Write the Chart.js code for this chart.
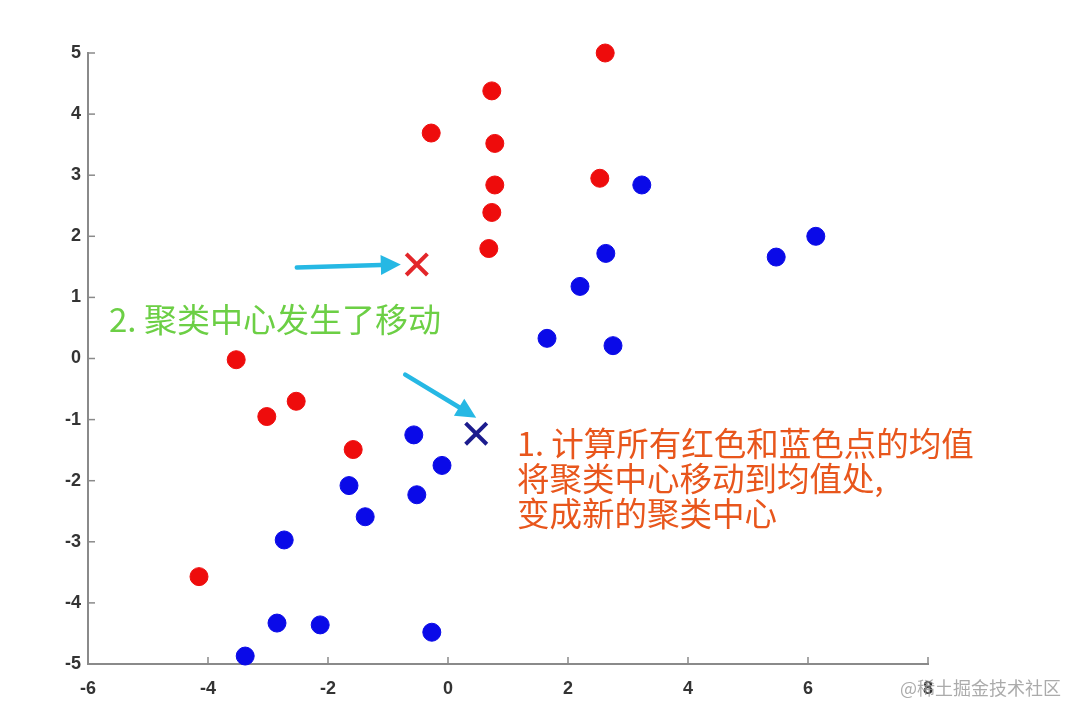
<!DOCTYPE html>
<html>
<head>
<meta charset="utf-8">
<script src="https://cdn.jsdelivr.net/npm/chart.js@4/dist/chart.umd.min.js"></script>
<style>
  body { margin: 0; background: #fff; }
  #wrap { width: 1080px; height: 716px; }
</style>
</head>
<body>
<div id="wrap"><canvas id="c" width="1080" height="716"></canvas></div>
<script>
// --- data ---
const redX = [2.62, 0.73, -0.28, 0.78, 0.78, 2.53, 0.73, 0.68, -3.53, -2.53, -3.02, -1.58, -4.15];
const redY = [5.0, 4.38, 3.69, 3.52, 2.84, 2.95, 2.39, 1.80, -0.02, -0.70, -0.95, -1.49, -3.57];
const blueX = [3.23, 6.13, 5.47, 2.63, 2.20, 1.65, 2.75, -0.57, -0.10, -0.52, -1.65, -1.38, -2.73, -2.85, -2.13, -0.27, -3.38];
const blueY = [2.84, 2.00, 1.66, 1.72, 1.18, 0.33, 0.21, -1.25, -1.75, -2.23, -2.08, -2.59, -2.97, -4.33, -4.36, -4.48, -4.87];
const redCenter = [-0.52, 1.54];
const blueCenter = [0.47, -1.23];
const xTicks = [-6, -4, -2, 0, 2, 4, 6, 8];
const yTicks = [-5, -4, -3, -2, -1, 0, 1, 2, 3, 4, 5];

const toPoints = (xs, ys) => xs.map((x, i) => ({ x: x, y: ys[i] }));

// --- annotation plugin: inward ticks, arrows, captions ---
const notes = {
    id: 'notes',
    afterDraw(chart) {
        const ctx = chart.ctx;
        const xs = chart.scales.x, ys = chart.scales.y;
        const area = chart.chartArea;

        // inward tick marks
        ctx.save();
        ctx.strokeStyle = '#8a8a8a';
        ctx.lineWidth = 1.5;
        xTicks.forEach(v => {
            const px = xs.getPixelForValue(v);
            ctx.beginPath();
            ctx.moveTo(px, area.bottom);
            ctx.lineTo(px, area.bottom - 7);
            ctx.stroke();
        });
        yTicks.forEach(v => {
            const py = ys.getPixelForValue(v);
            ctx.beginPath();
            ctx.moveTo(area.left, py);
            ctx.lineTo(area.left + 7, py);
            ctx.stroke();
        });
        ctx.restore();

        // arrows pointing at the centres
        function arrow(x1, y1, x2, y2) {
            const ang = Math.atan2(y2 - y1, x2 - x1);
            const head = 20, half = 10;
            const bx = x2 - head * Math.cos(ang), by = y2 - head * Math.sin(ang);
            ctx.save();
            ctx.strokeStyle = '#26b8e4';
            ctx.fillStyle = '#26b8e4';
            ctx.lineWidth = 4.5;
            ctx.lineCap = 'round';
            ctx.beginPath();
            ctx.moveTo(x1, y1);
            ctx.lineTo(bx, by);
            ctx.stroke();
            ctx.beginPath();
            ctx.moveTo(x2, y2);
            ctx.lineTo(bx - half * Math.sin(ang), by + half * Math.cos(ang));
            ctx.lineTo(bx + half * Math.sin(ang), by - half * Math.cos(ang));
            ctx.closePath();
            ctx.fill();
            ctx.restore();
        }
        const rcx = xs.getPixelForValue(redCenter[0]), rcy = ys.getPixelForValue(redCenter[1]);
        const bcx = xs.getPixelForValue(blueCenter[0]), bcy = ys.getPixelForValue(blueCenter[1]);
        arrow(rcx - 120, rcy + 3, rcx - 16, rcy);
        arrow(bcx - 71, bcy - 59, bcx, bcy - 16);

        // captions
        ctx.save();
        ctx.textBaseline = 'alphabetic';
        ctx.textAlign = 'left';
        ctx.font = '33px "Noto Sans CJK SC", "Noto Sans", sans-serif';
        ctx.fillStyle = '#6ccf45';
        ctx.fillText('2. 聚类中心发生了移动', 109, 332);
        ctx.font = '32.5px "Noto Sans CJK SC", "Noto Sans", sans-serif';
        ctx.fillStyle = '#e8561c';
        ctx.fillText('1. 计算所有红色和蓝色点的均值', 517, 456);
        ctx.fillText('将聚类中心移动到均值处,', 517, 491);
        ctx.fillText('变成新的聚类中心', 517, 526);
        ctx.font = '18px "Noto Sans CJK SC", sans-serif';
        ctx.fillStyle = 'rgba(150,150,150,0.8)';
        ctx.fillText('@稀土掘金技术社区', 900, 695);
        ctx.restore();
    }
};

new Chart(document.getElementById('c'), {
    type: 'scatter',
    data: {
        datasets: [
            {
                label: 'red',
                data: toPoints(redX, redY),
                backgroundColor: '#ee0c0c',
                borderColor: '#ee0c0c',
                pointRadius: 9,
                clip: false
            },
            {
                label: 'blue',
                data: toPoints(blueX, blueY),
                backgroundColor: '#0a0ae8',
                borderColor: '#0a0ae8',
                pointRadius: 9,
                clip: false
            },
            {
                label: 'red centre',
                data: [{ x: redCenter[0], y: redCenter[1] }],
                pointStyle: 'crossRot',
                borderColor: '#e3262a',
                borderWidth: 4,
                pointRadius: 15,
                clip: false
            },
            {
                label: 'blue centre',
                data: [{ x: blueCenter[0], y: blueCenter[1] }],
                pointStyle: 'crossRot',
                borderColor: '#1c1c8e',
                borderWidth: 4,
                pointRadius: 15,
                clip: false
            }
        ]
    },
    options: {
        responsive: false,
        animation: false,
        layout: { padding: { top: 53, right: 152, left: 0, bottom: 0 } },
        plugins: { legend: { display: false }, tooltip: { enabled: false } },
        scales: {
            x: {
                type: 'linear',
                min: -6, max: 8,
                afterBuildTicks: s => { s.ticks = xTicks.map(v => ({ value: v })); },
                afterFit: s => { s.height = 52; },
                grid: { display: true, drawOnChartArea: false, drawTicks: false },
                border: { color: '#8a8a8a', width: 2 },
                ticks: { color: '#333', padding: 14, font: { family: 'Liberation Sans', size: 18, weight: 'bold' } }
            },
            y: {
                type: 'linear',
                min: -5, max: 5,
                afterBuildTicks: s => { s.ticks = yTicks.map(v => ({ value: v })); },
                afterFit: s => { s.width = 88; },
                grid: { display: true, drawOnChartArea: false, drawTicks: false },
                border: { color: '#8a8a8a', width: 2 },
                ticks: { color: '#333', padding: 7, font: { family: 'Liberation Sans', size: 18, weight: 'bold' } }
            }
        }
    },
    plugins: [notes]
});
</script>
</body>
</html>
